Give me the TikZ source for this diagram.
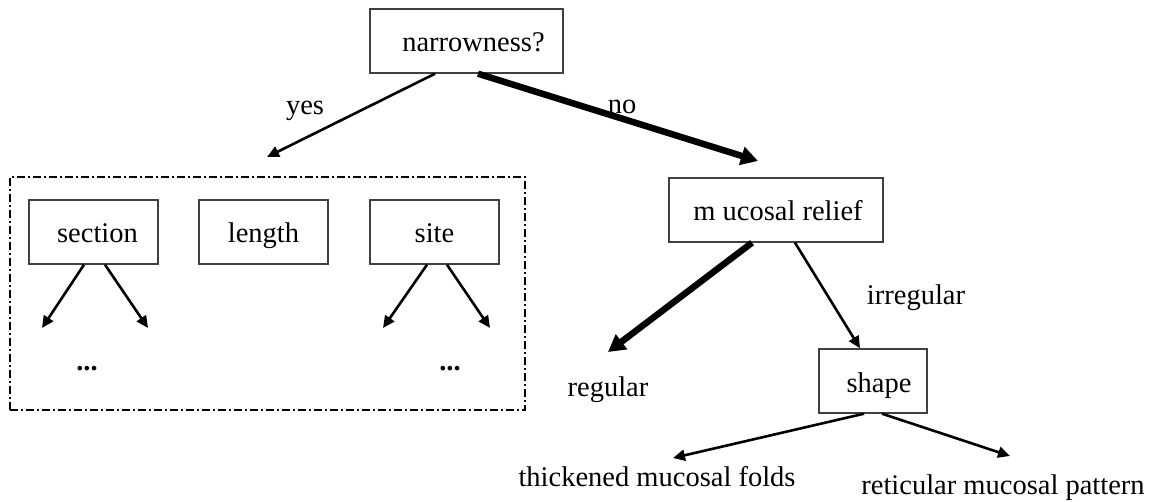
\documentclass[tikz,border=0pt]{standalone}
\usepackage{fontspec}
\setmainfont{Liberation Serif}
\usetikzlibrary{arrows.meta,calc}
\begin{document}
\begin{tikzpicture}[x=1pt,y=-1pt,
  every node/.style={font=\fontsize{28.5}{32}\selectfont},
  box/.style={draw=black!75,line width=1.4pt,minimum height=64pt,inner sep=0pt,text height=28pt,text depth=6pt},
  lbl/.style={inner sep=0pt},
  arr/.style={line width=2.6pt,-{Triangle[length=12pt,width=11pt]}},
  thickarr/.style={line width=6.5pt,-{Triangle[length=17pt,width=18pt]}},
  dashdotbox/.style={draw,line width=2.2pt,dash pattern=on 8pt off 3pt on 2pt off 3pt}
]
\useasboundingbox (0,0) rectangle (1153,502);
% boxes
\node[box,minimum width=193pt] (nar) at (466.5,41) {\hspace{14pt}narrowness?};
\node[dashdotbox,minimum width=515pt,minimum height=233pt,inner sep=0pt] (grp) at (267.5,293.5) {};
\node[box,minimum width=129pt] (sec) at (93.5,232) {\hspace{8pt}section};
\node[box,minimum width=129pt] (len) at (263.5,232) {length};
\node[box,minimum width=129pt] (site) at (434.5,232) {site\hspace{36pt}};
\node[box,minimum width=214pt] (muc) at (776,210) {\hspace{4pt}m ucosal relief};
\node[box,minimum width=108pt] (shp) at (873,381) {\hspace{12pt}shape};
% labels
\node[lbl] (yes) at (305,111) {yes};
\node[lbl] (no) at (622,106.5) {no};
\node[lbl] (irr) at (916,298) {irregular};
\node[lbl] (reg) at (608,390) {regular};
\node[lbl] (d1) at (87,369) {\textbf{...}};
\node[lbl] (d2) at (450,369) {\textbf{...}};
\node[lbl] (thk) at (657,477) {thickened mucosal folds};
\node[lbl] (ret) at (1003,488) {reticular mucosal pattern};
% free ends
\coordinate (yesend) at (267,157);
\coordinate (noend) at (758,161);
\coordinate (s1) at (42,328);
\coordinate (s2) at (148,328);
\coordinate (t1) at (383,328);
\coordinate (t2) at (490,328);
\coordinate (regend) at (608,352);
\coordinate (h1) at (673,458);
\coordinate (h2) at (1010,456);
% connectors
\draw[arr] ([xshift=-31.5pt]nar.south) -- (yesend);
\draw[thickarr] ([xshift=11.5pt]nar.south) -- (noend);
\draw[arr] ([xshift=-9.5pt]sec.south) -- (s1);
\draw[arr] ([xshift=11.5pt]sec.south) -- (s2);
\draw[arr] ([xshift=-7.5pt]site.south) -- (t1);
\draw[arr] ([xshift=12.5pt]site.south) -- (t2);
\draw[thickarr] ([xshift=-24pt]muc.south) -- (regend);
\draw[arr] ([xshift=19pt]muc.south) -- ([xshift=-13pt]shp.north);
\draw[arr] ([xshift=-9pt]shp.south) -- (h1);
\draw[arr] ([xshift=9pt]shp.south) -- (h2);
\end{tikzpicture}
\end{document}
